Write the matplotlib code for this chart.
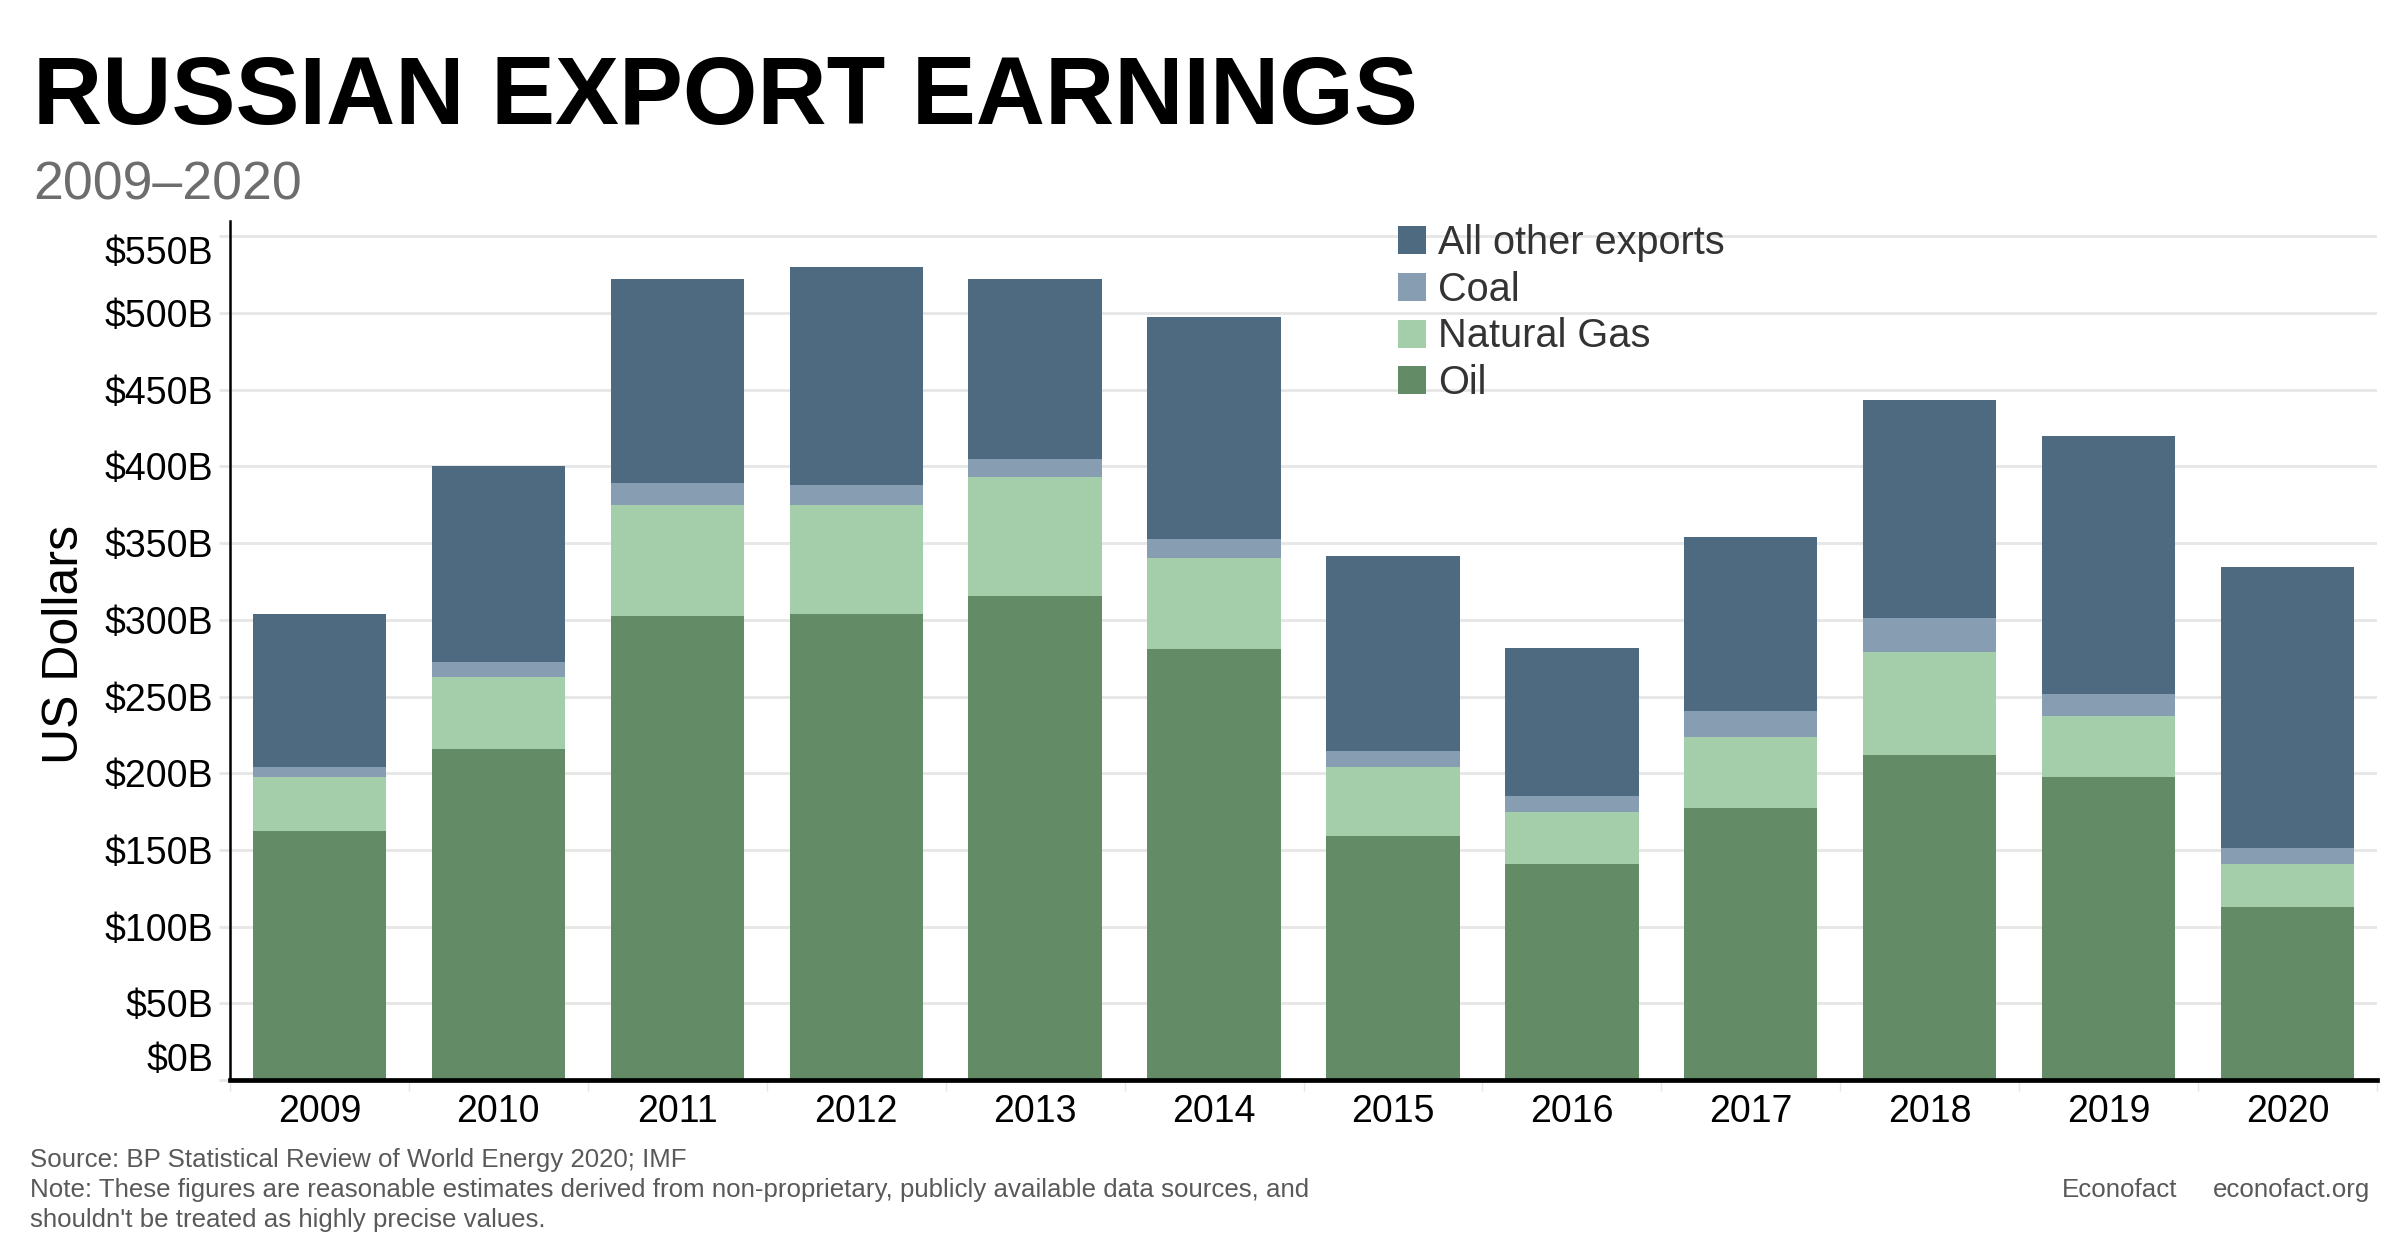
import matplotlib
matplotlib.use('Agg')
import matplotlib.pyplot as plt
import matplotlib.transforms as mtrans
import numpy as np

plt.rcParams['font.family'] = ['Liberation Sans', 'DejaVu Sans']

# data, in billions of US dollars
years = ['2009', '2010', '2011', '2012', '2013', '2014',
         '2015', '2016', '2017', '2018', '2019', '2020']
oil = [162.6, 215.7, 302.4, 303.7, 315.5, 281.3, 158.9, 140.6, 177.6, 211.7, 197.3, 113.0]
gas = [34.8, 47.3, 72.6, 71.3, 77.7, 59.3, 45.1, 34.4, 46.0, 67.5, 39.7, 27.6]
coal = [6.5, 9.2, 14.3, 13.0, 11.8, 11.8, 10.5, 10.4, 17.0, 21.9, 14.4, 10.5]
other = [100.0, 127.8, 132.7, 141.8, 117.0, 144.8, 127.4, 96.1, 113.1, 142.3, 168.4, 183.1]

yticks = [0, 50, 100, 150, 200, 250, 300, 350, 400, 450, 500, 550]
ytick_labels = ['$' + str(v) + 'B' for v in yticks]

series = [('Oil', oil, '#638b66'),
          ('Natural Gas', gas, '#a3cea9'),
          ('Coal', coal, '#879db2'),
          ('All other exports', other, '#4e6a81')]

fig = plt.figure(figsize=(12, 6.3), dpi=200)
ax = fig.add_axes([230/2400, 1 - 1080/1260, (2377 - 230)/2400, (1080 - 221)/1260])

x = np.arange(len(years))
bottom = np.zeros(len(years))
handles = []
for name, vals, color in series:
    b = ax.bar(x, vals, width=0.745, bottom=bottom, color=color, label=name, zorder=3, linewidth=0)
    handles.append(b)
    bottom += np.array(vals)

# axes format
ax.set_xlim(-0.5, len(years) - 0.5)
ax.set_ylim(0, 560)
ax.set_xticks(x)
ax.set_xticklabels(years, fontsize=13.5)
ax.set_xticks(np.arange(-0.5, len(years), 1), minor=True)
ax.set_yticks(yticks)
ax.set_yticklabels(ytick_labels, fontsize=13.5)
ax.tick_params(axis='x', which='major', length=0, pad=5)
ax.tick_params(axis='x', which='minor', length=4, width=0.5, color='#e6e6e6')
ax.tick_params(axis='y', length=4, width=1, color='#e6e6e6', pad=2)
ax.grid(axis='y', color='#e6e6e6', linewidth=1, zorder=0)
ax.set_axisbelow(True)
for s in ['top', 'right']:
    ax.spines[s].set_visible(False)
ax.spines['left'].set_linewidth(0.9)
ax.spines['bottom'].set_linewidth(1.7)
ax.spines['bottom'].set_zorder(4)

# top and bottom y labels are pulled inside the plot range
ylabs = ax.get_yticklabels()
ylabs[0].set_transform(ylabs[0].get_transform() + mtrans.ScaledTranslation(0, 23/200, fig.dpi_scale_trans))
ylabs[-1].set_transform(ylabs[-1].get_transform() + mtrans.ScaledTranslation(0, -14/200, fig.dpi_scale_trans))

fig.text(65/2400, 1 - 644/1260, 'US Dollars', rotation=90, fontsize=18, ha='center', va='center')

# legend
leg = fig.legend(handles[::-1], [s[0] for s in series][::-1],
                 loc='upper left', bbox_to_anchor=(1398/2400, 1 - 224/1260),
                 frameon=False, fontsize=14.3, handlelength=0.71, handleheight=0.71,
                 handletextpad=0.3, labelspacing=0.22, borderpad=0, borderaxespad=0)
for t in leg.get_texts():
    t.set_color('#333333')

# titles
fig.text(33/2400, 1 - 124/1260, 'RUSSIAN EXPORT EARNINGS', fontsize=34.5, fontweight='bold',
         ha='left', va='baseline')
fig.text(33/2400, 1 - 199/1260, '2009–2020', fontsize=19.3, color='#6d6d6d',
         ha='left', va='baseline')

# footer
foot_color = '#595959'
fig.text(30/2400, 1 - 1160/1260, 'Source: BP Statistical Review of World Energy 2020; IMF',
         fontsize=9.3, color=foot_color, ha='left', va='center')
fig.text(30/2400, 1 - 1190/1260, 'Note: These figures are reasonable estimates derived from non-proprietary, publicly available data sources, and',
         fontsize=9.3, color=foot_color, ha='left', va='center')
fig.text(30/2400, 1 - 1220/1260, "shouldn't be treated as highly precise values.",
         fontsize=9.3, color=foot_color, ha='left', va='center')
fig.text(2062/2400, 1 - 1190/1260, 'Econofact', fontsize=9.3, color=foot_color, ha='left', va='center')
fig.text(2370/2400, 1 - 1190/1260, 'econofact.org', fontsize=9.3, color=foot_color, ha='right', va='center')

fig.savefig('out.png', dpi=200)
